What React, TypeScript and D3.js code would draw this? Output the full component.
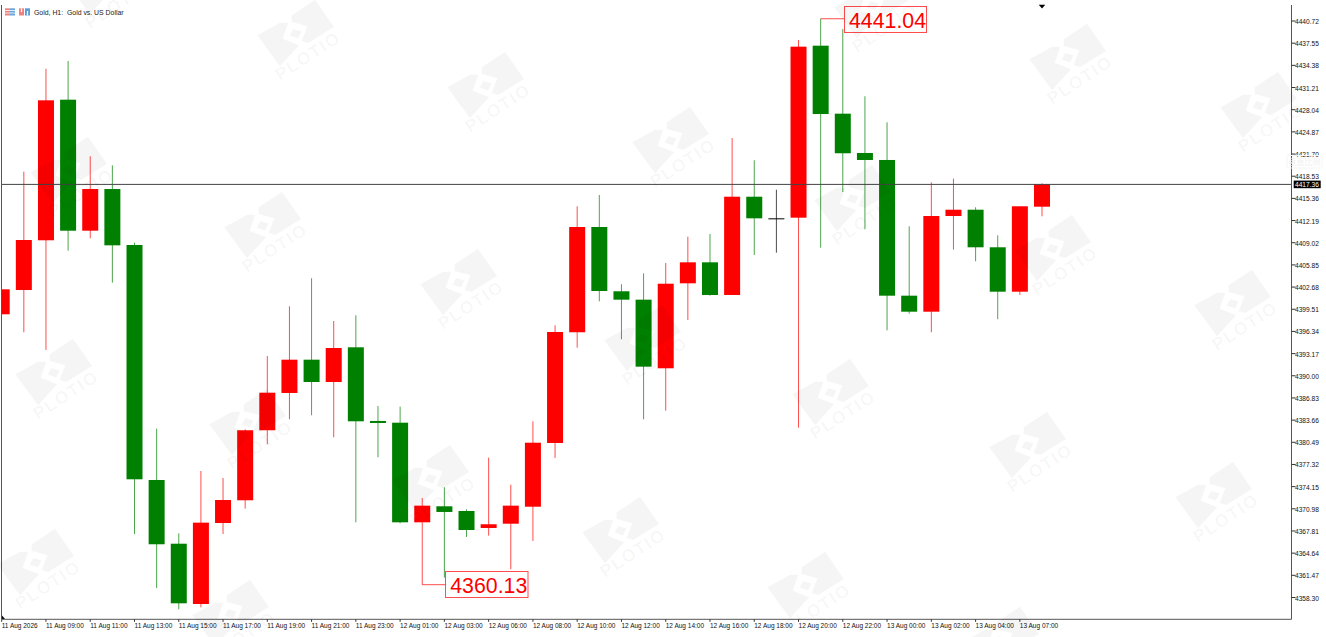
import React from "react";
import * as d3 from "d3";

const opens = [4398.79,4402.26,4409.37,4429.47,4410.74,4416.70,4408.70,4375.10,4365.99,4357.37,4368.95,4372.20,4382.21,4387.54,4392.30,4389.11,4394.07,4383.54,4383.29,4369.05,4371.34,4370.67,4368.24,4368.85,4371.28,4380.39,4396.22,4411.27,4402.08,4400.88,4391.07,4403.22,4406.22,4401.55,4415.60,4412.51,4412.60,4437.19,4427.47,4421.85,4420.85,4401.45,4399.16,4412.84,4413.74,4408.37,4402.02,4414.17];
const highs = [4402.36,4419.18,4433.90,4435.00,4421.38,4420.09,4409.03,4382.44,4367.48,4376.39,4375.39,4382.35,4392.83,4399.93,4403.94,4397.83,4398.65,4385.68,4385.58,4372.53,4374.06,4370.91,4378.29,4374.43,4383.49,4397.22,4414.23,4415.84,4403.08,4404.65,4406.12,4409.88,4410.27,4423.99,4420.81,4416.60,4438.00,4441.04,4439.58,4429.96,4426.24,4411.37,4417.66,4418.18,4414.09,4410.08,4414.23,4417.52];
const lows = [4398.79,4396.22,4393.69,4407.88,4409.66,4403.31,4367.38,4359.66,4356.62,4356.90,4367.38,4371.00,4380.20,4383.78,4384.35,4381.21,4369.05,4378.35,4368.91,4360.13,4361.13,4366.95,4367.14,4362.33,4366.38,4378.25,4394.02,4400.65,4395.22,4383.78,4385.01,4397.98,4401.45,4401.55,4407.27,4407.60,4382.58,4408.31,4416.27,4410.94,4396.50,4398.88,4396.22,4408.03,4406.37,4398.08,4401.55,4412.80];
const closes = [4402.36,4409.41,4429.38,4410.74,4416.70,4408.65,4375.20,4365.91,4357.47,4369.00,4372.24,4382.21,4387.58,4392.30,4389.11,4393.97,4383.49,4383.25,4369.05,4371.43,4370.53,4367.95,4368.77,4371.43,4380.43,4396.26,4411.27,4402.12,4400.88,4391.30,4403.16,4406.22,4401.55,4415.60,4412.51,4412.51,4437.05,4427.42,4421.81,4420.85,4401.45,4399.16,4412.84,4413.74,4408.37,4402.02,4414.23,4417.37];

const priceTicks = ["4440.72","4437.55","4434.38","4431.21","4428.04","4424.87","4421.70","4418.53","4415.36","4412.19","4409.02","4405.85","4402.68","4399.51","4396.34","4393.17","4390.00","4386.83","4383.66","4380.49","4377.32","4374.15","4370.98","4367.81","4364.64","4361.47","4358.30"];
const timeTicks = ["11 Aug 2026","11 Aug 09:00","11 Aug 11:00","11 Aug 13:00","11 Aug 15:00","11 Aug 17:00","11 Aug 19:00","11 Aug 21:00","11 Aug 23:00","12 Aug 01:00","12 Aug 03:00","12 Aug 06:00","12 Aug 08:00","12 Aug 10:00","12 Aug 12:00","12 Aug 14:00","12 Aug 16:00","12 Aug 18:00","12 Aug 20:00","12 Aug 22:00","13 Aug 00:00","13 Aug 02:00","13 Aug 04:00","13 Aug 07:00"];
const lastPrice = 4417.36;
const highMark = { index: 37, price: 4441.04 };
const lowMark = { index: 19, price: 4360.13 };
const title = "Gold, H1:  Gold vs. US Dollar";
const logoSpots: [number, number][] = [[105,-19],[295,33],[485,85],[670,140],[852,198],[1052,248],[1232,303],[68,170],[262,225],[458,282],[642,338],[830,392],[1027,445],[1213,495],[53,372],[247,422],[430,478],[620,530],[805,585],[1000,640],[35,562],[230,613],[872,5],[1067,57],[1258,105]];

const W = 1326, H = 637;
const UP = "#ff0000", DOWN = "#008000", EVEN = "#000000";
const FONT = "'Liberation Sans', Arial, sans-serif";

const x = d3.scaleLinear().domain([0, opens.length - 1]).range([1.7, 1042]);
const y = d3.scaleLinear().domain([4440.72, 4358.30]).range([21, 597.5]);
const plotLeft = 1.5, plotRight = 1291.5, plotBottom = 619.3, plotTop = 5;
const bodyW = 16;

function Logo({ cx, cy }: { cx: number; cy: number }) {
  return (
    <g transform={`translate(${cx},${cy})`} fill="#000" fillOpacity={0.04}>
      <path d="M-3.3,-17.7 L20,-33.3 L39,-6 L13.3,10 L6.7,8 L12.3,-6.7 L-3.3,-11 Z" />
      <path d="M-37.7,2.3 L-15,-10.3 L-6.7,-10.3 L-12.3,5.7 L4.3,12.3 L0,16.7 L-15,33.3 Z" />
      <path d="M-1.5,-4 L6.5,-1.5 L3,5.5 L-5.5,2.5 Z" />
      <text transform="translate(16,28) rotate(-33)" textAnchor="middle" fontFamily={FONT} fontWeight="700" fontSize="17.5" letterSpacing="1.5">PLOTIO</text>
    </g>
  );
}

function Extreme({ px, py, boxX, boxW, boxTop, boxH, value, fromY }: any) {
  return (
    <g>
      <path d={`M${px},${fromY} L${px},${py} L${boxX},${py}`} fill="none" stroke={UP} strokeOpacity={0.7} strokeWidth={1} />
      <rect x={boxX} y={boxTop} width={boxW} height={boxH} fill="#fff" stroke={UP} strokeOpacity={0.7} strokeWidth={1} />
      <text x={boxX + boxW / 2 + 2} y={boxTop + boxH / 2 + 8} textAnchor="middle" fontFamily={FONT} fontSize={21.3} fill={UP}>{value}</text>
    </g>
  );
}

export default function App() {
  const yLast = y(lastPrice);
  return (
    <svg width={W} height={H} viewBox={`0 0 ${W} ${H}`} style={{ position: "absolute", left: 0, top: 0, background: "#fff" }}>
      <defs>
        <clipPath id="plot"><rect x={plotLeft} y={0} width={plotRight - plotLeft} height={plotBottom} /></clipPath>
      </defs>

      <g clipPath="url(#plot)">
        {opens.map((o, i) => {
          const c = closes[i];
          const color = c > o ? UP : c < o ? DOWN : EVEN;
          const top = y(Math.max(o, c));
          const h = Math.max(1, y(Math.min(o, c)) - top);
          const isMark = i === lowMark.index;
          return (
            <g key={i}>
              <line x1={x(i)} x2={x(i)} y1={y(highs[i])} y2={isMark ? top + h : y(lows[i])} stroke={color} strokeOpacity={0.7} strokeWidth={1} />
              <rect x={x(i) - bodyW / 2} y={top} width={bodyW} height={h} fill={color} />
            </g>
          );
        })}
      </g>

      <line x1={plotLeft} x2={plotRight} y1={yLast} y2={yLast} stroke="#444" strokeWidth={1} />

      <Extreme px={x(highMark.index)} py={y(highMark.price)} fromY={y(highMark.price)} boxX={844.5} boxW={82} boxTop={6.5} boxH={26} value={highMark.price.toFixed(2)} />
      <Extreme px={x(lowMark.index)} py={y(lowMark.price)} fromY={y(closes[lowMark.index] - 2.38)} boxX={445.5} boxW={82.5} boxTop={571.5} boxH={26} value={lowMark.price.toFixed(2)} />

      <path d="M1038.7,4.7 L1045.3,4.7 L1042,8.5 Z" fill="#000" />
      <path d="M2,615.5 L5,619 L2,619 Z" fill="#000" />

      <path d={`M${plotLeft},${plotTop} L${plotLeft},${plotBottom} L${plotRight},${plotBottom} L${plotRight},${plotTop}`} fill="none" stroke="#555" strokeWidth={1} />

      {priceTicks.map((t) => (
        <g key={t}>
          <line x1={plotRight} x2={plotRight + 4} y1={y(+t)} y2={y(+t)} stroke="#333" strokeWidth={1} />
          <text x={plotRight + 3.5} y={y(+t) + 3} fontFamily={FONT} fontSize={6.6} fill="#111">{t}</text>
        </g>
      ))}
      <rect x={1293.7} y={yLast - 3.8} width={27} height={7.6} fill="#000" />
      <text x={1295} y={yLast + 2.5} fontFamily={FONT} fontSize={6.6} fill="#fff">{lastPrice.toFixed(2)}</text>

      {timeTicks.map((t, k) => (
        <g key={t}>
          <line x1={x(k * 2)} x2={x(k * 2)} y1={plotBottom} y2={plotBottom + 2.5} stroke="#333" strokeWidth={1} />
          <text x={x(k * 2)} y={628.3} fontFamily={FONT} fontSize={6.5} fill="#111">{t}</text>
        </g>
      ))}

      <g>
        <rect x={5} y={8.3} width={5} height={7.2} fill="#f28080" />
        <rect x={10} y={8.3} width={5} height={7.2} fill="#6aa7dc" />
        <path d="M5,10.5 H15 M5,13 H15" stroke="#fff" strokeWidth={0.8} />
        <rect x={19} y={8.3} width={5} height={7.2} fill="#f08080" />
        <rect x={25} y={8.3} width={5} height={7.2} fill="#5a9fd8" />
        <path d="M21.5,8.3 V12 M27.5,11 V15.5" stroke="#fff" strokeWidth={1.2} />
        <text x={34} y={14.5} fontFamily={FONT} fontSize={6.9} fill="#222" style={{ whiteSpace: "pre" }}>{title}</text>
      </g>

      <rect x={1287} y={155.5} width={35} height={12.5} rx={1} fill="none" stroke="#f5f5f5" strokeWidth={1} />
      <text x={1304.5} y={165} textAnchor="middle" fontFamily="'Noto Sans CJK SC'" fontSize={8} fill="#f1f1f1">垂直比例</text>

      {logoSpots.map(([cx, cy], i) => <Logo key={i} cx={cx} cy={cy} />)}
    </svg>
  );
}
